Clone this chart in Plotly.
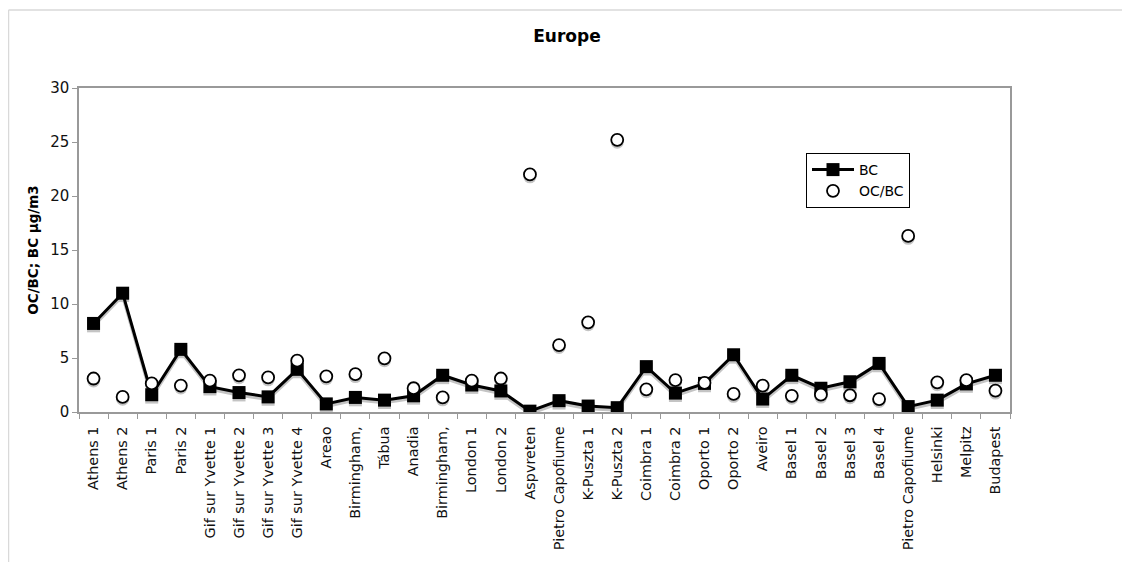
import plotly.graph_objects as go

sites = ["Athens 1", "Athens 2", "Paris 1", "Paris 2",
         "Gif sur Yvette 1", "Gif sur Yvette 2", "Gif sur Yvette 3", "Gif sur Yvette 4",
         "Areao", "Birmingham,", "Tábua", "Anadia", "Birmingham,",
         "London 1", "London 2", "Aspvreten", "Pietro Capofiume",
         "K-Puszta 1", "K-Puszta 2", "Coimbra 1", "Coimbra 2",
         "Oporto 1", "Oporto 2", "Aveiro", "Basel 1", "Basel 2", "Basel 3", "Basel 4",
         "Pietro Capofiume", "Helsinki", "Melpitz", "Budapest"]

bc = [8.2, 11.0, 1.6, 5.8, 2.35, 1.8, 1.4, 3.95,
      0.75, 1.35, 1.1, 1.5, 3.4, 2.5, 1.95, 0.08, 1.05,
      0.55, 0.4, 4.2, 1.75, 2.65, 5.3, 1.2, 3.4, 2.2, 2.8, 4.5,
      0.5, 1.1, 2.6, 3.4]

oc_bc = [3.1, 1.4, 2.65, 2.45, 2.9, 3.4, 3.2, 4.75,
         3.3, 3.5, 4.97, 2.2, 1.35, 2.9, 3.1, 22.0, 6.2,
         8.3, 25.2, 2.1, 2.96, 2.7, 1.67, 2.45, 1.5, 1.6, 1.55, 1.2,
         16.3, 2.75, 2.95, 1.97]

y_ticks = [0, 5, 10, 15, 20, 25, 30]

x = list(range(len(sites)))
shadow = "#c4c4c4"
font = "DejaVu Sans"

W, H = 1130, 562
L, T, PW, PH = 71, 80, 931, 324

fig = go.Figure()

# soft shadows (drawn on the hidden, slightly shifted axis beneath the data)
fig.add_trace(go.Scatter(x=x, y=bc, mode="lines+markers", yaxis="y", showlegend=False,
                         hoverinfo="skip",
                         line=dict(color=shadow, width=3.5),
                         marker=dict(symbol="square", size=13, color=shadow)))
fig.add_trace(go.Scatter(x=x, y=oc_bc, mode="markers", yaxis="y", showlegend=False,
                         hoverinfo="skip",
                         marker=dict(symbol="circle", size=13, color=shadow)))

# data
fig.add_trace(go.Scatter(x=x, y=bc, mode="lines+markers", name="BC", yaxis="y2",
                         line=dict(color="black", width=3),
                         marker=dict(symbol="square", size=13, color="black")))
fig.add_trace(go.Scatter(x=x, y=oc_bc, mode="markers", name="OC/BC", yaxis="y2",
                         marker=dict(symbol="circle", size=12, color="white",
                                     line=dict(color="black", width=1.8))))

axis_col = "#999999"

fig.update_layout(
    width=W, height=H,
    margin=dict(l=L, r=W - L - PW, t=T, b=H - T - PH),
    paper_bgcolor="white", plot_bgcolor="white",
    font=dict(family=font, size=15, color="#111"),
    title=dict(text="<b>Europe</b>", x=(567 - 8) / W, xref="container", xanchor="center",
               y=1 - 28 / H, yanchor="middle", yref="container",
               font=dict(family=font, size=17, color="black")),
    showlegend=True,
    legend=dict(x=(806 - 79) / PW, y=1 - (153 - 88) / PH, xanchor="left", yanchor="top",
                bordercolor="black", borderwidth=1, bgcolor="white",
                font=dict(family=font, size=14, color="black"),
                tracegroupgap=0, itemwidth=42),
    xaxis=dict(range=[-0.5, len(sites) - 0.5], tickmode="array", tickvals=x, ticktext=sites,
               tickangle=-90, ticks="", ticklabelstandoff=7,
               showline=True, linecolor=axis_col, linewidth=1.5, mirror=True,
               showgrid=False, zeroline=False,
               tickfont=dict(family=font, size=14.4, color="#111"),
               minor=dict(tick0=-0.5, dtick=1, ticks="outside", ticklen=5,
                          tickcolor=axis_col, tickwidth=1, showgrid=False)),
    yaxis=dict(range=[0.22, 30.22], visible=False, showgrid=False, zeroline=False),
    yaxis2=dict(range=[0, 30], overlaying="y", side="left", tickvals=y_ticks,
                ticks="outside", ticklen=5, tickcolor=axis_col,
                showline=True, linecolor=axis_col, linewidth=1.5, mirror=True,
                showgrid=False, zeroline=False,
                tickfont=dict(family=font, size=15, color="#111"),
                title=dict(text="<b>OC/BC; BC µg/m3</b>", standoff=8,
                           font=dict(family=font, size=13.5, color="black"))),
    shapes=[
        dict(type="line", xref="paper", yref="paper",
             x0=-(L - 0.5) / PW, x1=(W - L) / PW,
             y0=1 + (T - 2) / PH, y1=1 + (T - 2) / PH,
             line=dict(color="#d9d9d9", width=1.5)),
        dict(type="line", xref="paper", yref="paper",
             x0=-(L - 0.5) / PW, x1=-(L - 0.5) / PW,
             y0=1 + (T - 2) / PH, y1=-(H - T - PH) / PH,
             line=dict(color="#d9d9d9", width=1.5)),
    ],
)

fig.write_html("out.html")
